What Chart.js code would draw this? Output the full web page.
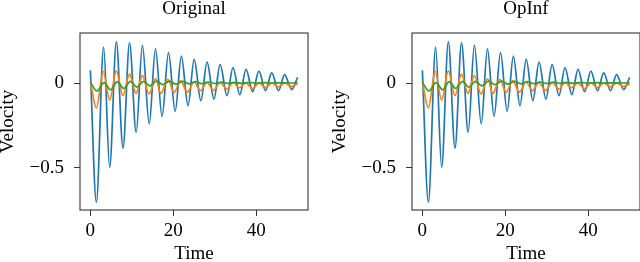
<!DOCTYPE html>
<html>
<head>
<meta charset="utf-8">
<script src="https://cdn.jsdelivr.net/npm/chart.js@4.4.1/dist/chart.umd.min.js"></script>
<style>
  html, body { margin: 0; padding: 0; background: #fff; }
  #wrap { position: relative; width: 640px; height: 262px; overflow: hidden; }
  canvas { position: absolute; top: 0; }
  #chartOriginal { left: 0; }
  #chartOpInf { left: 332px; }
</style>
</head>
<body>
<div id="wrap">
  <canvas id="chartOriginal" width="320" height="262"></canvas>
  <canvas id="chartOpInf" width="320" height="262"></canvas>
</div>
<script>
// values (turning points of each curve)
var blueT = [0, 1.45, 3.2, 4.65, 6.27, 7.87, 9.45, 11.05, 12.55, 14.2, 15.7, 17.3, 18.85, 20.45, 21.95, 23.55,
             25.05, 26.65, 28.15, 29.8, 31.3, 32.95, 34.4, 36.05, 37.55, 39.15, 40.65, 42.25, 43.75, 45.4, 46.85, 48.55, 50];
var blueV = [0.077, -0.706, 0.215, -0.498, 0.247, -0.384, 0.241, -0.291, 0.227, -0.241, 0.205, -0.196, 0.182, -0.166, 0.162, -0.132,
             0.142, -0.103, 0.126, -0.093, 0.111, -0.073, 0.093, -0.067, 0.083, -0.049, 0.073, -0.043, 0.062, -0.043, 0.052, -0.037, 0.035];

var orangeT = [0, 1.45, 3.1, 4.65, 6.25, 7.85, 9.45, 11.0, 12.55, 14.15, 15.75, 17.0, 18.7, 20.2, 21.8, 23.4,
               25.0, 26.6, 28.1, 29.7, 31.3, 32.9, 34.4, 36.0, 37.5, 39.1, 40.7, 42.2, 43.8, 45.3, 46.9, 48.6, 50];
var orangeV = [0.01, -0.146, 0.072, -0.1, 0.074, -0.073, 0.055, -0.06, 0.046, -0.063, 0.027, -0.06, 0.024, -0.053, 0.016, -0.052,
               0.008, -0.043, 0.006, -0.042, 0.005, -0.034, 0.004, -0.026, 0.003, -0.032, 0.003, -0.025, 0.002, -0.021, 0.002, -0.018, -0.002];

var greenT = [0, 1.6, 3.3, 4.9, 6.5, 8.0, 9.7, 11.2, 12.8, 14.4, 16.0, 17.5, 19.1, 20.7, 22.2, 23.8,
              25.4, 27.0, 28.5, 30.1, 31.7, 33.2, 34.8, 36.4, 38.0, 40, 42, 44, 46, 48, 50];
var greenV = [0.006, -0.045, 0.004, -0.038, 0.01, -0.03, 0.012, -0.022, 0.012, -0.015, 0.014, -0.008, 0.013, -0.005, 0.012, -0.003,
              0.01, -0.002, 0.008, -0.001, 0.007, 0, 0.006, 0, 0.005, 0.002, 0.004, 0.002, 0.003, 0.002, 0.002];

var xTicks = [0, 20, 40];
var yTicks = [-0.5, 0];

var serif = "'Liberation Serif', 'DejaVu Serif', serif";

function toPoints(ts, vs) {
    return ts.map(function (t, i) { return { x: t, y: vs[i] }; });
}

// full box around the plot area (matplotlib style spines)
var framePlugin = {
    id: 'frame',
    afterDraw: function (chart) {
        var a = chart.chartArea;
        var c = chart.ctx;
        c.save();
        c.strokeStyle = '#333';
        c.lineWidth = 1.1;
        c.strokeRect(a.left, a.top, a.right - a.left, a.bottom - a.top);
        c.restore();
    }
};

function makeChart(id, title) {
    var ctx = document.getElementById(id).getContext('2d');
    var line = function (label, pts, color, order) {
        return {
            label: label,
            data: pts,
            borderColor: color,
            borderWidth: 1.7,
            pointRadius: 0,
            fill: false,
            cubicInterpolationMode: 'monotone',
            order: order
        };
    };
    return new Chart(ctx, {
        type: 'line',
        data: {
            datasets: [
                line('blue', toPoints(blueT, blueV), '#1f77b4', 2),
                line('orange', toPoints(orangeT, orangeV), '#ff7f0e', 1),
                line('green', toPoints(greenT, greenV), '#2ca02c', 0)
            ]
        },
        options: {
            responsive: false,
            animation: false,
            devicePixelRatio: 1,
            layout: { padding: { left: 0, right: 12, top: 0, bottom: 0 } },
            plugins: {
                legend: { display: false },
                tooltip: { enabled: false },
                title: {
                    display: true,
                    text: title,
                    fullSize: false,
                    color: '#000',
                    font: { family: serif, size: 19, weight: 'normal', lineHeight: 1 },
                    padding: { top: 0, bottom: 14 }
                }
            },
            scales: {
                x: {
                    type: 'linear',
                    min: -2.5,
                    max: 52.5,
                    afterBuildTicks: function (axis) { axis.ticks = xTicks.map(function (v) { return { value: v }; }); },
                    afterFit: function (axis) { axis.height = 52; },
                    border: { display: false },
                    grid: { drawOnChartArea: false, drawTicks: true, tickLength: 6, color: '#333' },
                    ticks: { color: '#000', font: { family: serif, size: 19 }, padding: 4, autoSkip: false, maxRotation: 0 },
                    title: { display: true, text: 'Time', color: '#000', font: { family: serif, size: 19, lineHeight: 0.8 }, padding: 0 }
                },
                y: {
                    min: -0.752,
                    max: 0.299,
                    afterBuildTicks: function (axis) { axis.ticks = yTicks.map(function (v) { return { value: v }; }); },
                    afterFit: function (axis) { axis.width = 80; },
                    border: { display: false },
                    grid: { drawOnChartArea: false, drawTicks: true, tickLength: 6, color: '#333' },
                    ticks: {
                        color: '#000',
                        font: { family: serif, size: 19 },
                        padding: 10,
                        callback: function (v) { return v < 0 ? '\u2212' + Math.abs(v) : String(v); }
                    },
                    title: { display: true, text: 'Velocity', color: '#000', font: { family: serif, size: 19, lineHeight: 0.8 }, padding: 0 }
                }
            }
        },
        plugins: [framePlugin]
    });
}

makeChart('chartOriginal', 'Original');
makeChart('chartOpInf', 'OpInf');
</script>
</body>
</html>
